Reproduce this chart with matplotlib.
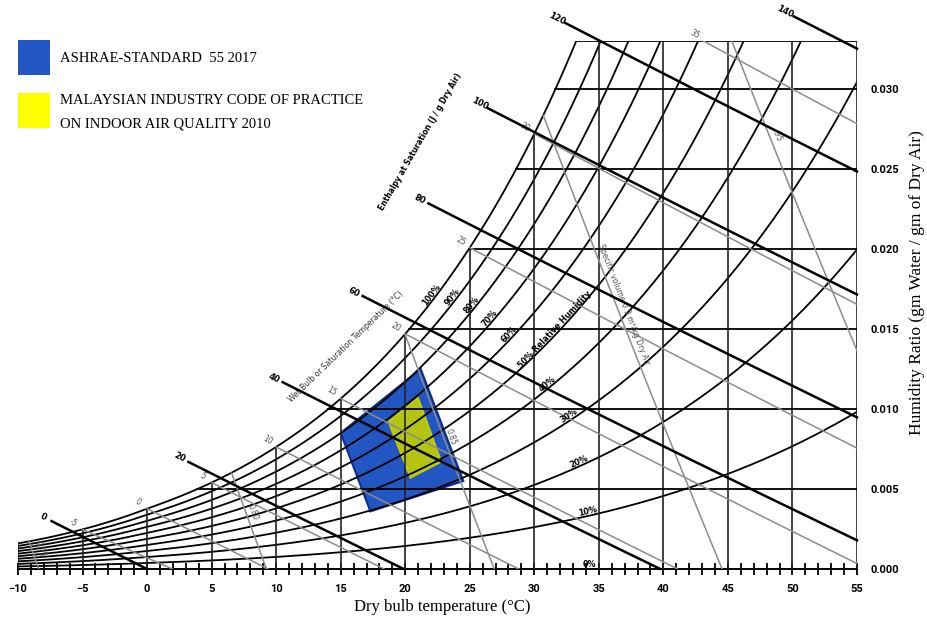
import numpy as np
import matplotlib.pyplot as plt
from matplotlib.patches import Polygon, Rectangle
from matplotlib.ticker import MultipleLocator, FormatStrFormatter

# chart parameters
rh_levels = [10, 20, 30, 40, 50, 60, 70, 80, 90, 100]
rh_label_levels = [0, 10, 20, 30, 40, 50, 60, 70, 80, 90, 100]
rh_label_T = [34.3, 34.2, 33.6, 32.9, 31.2, 31.8, 28.3, 26.8, 25.4, 23.9, 22.3]
rh_label_text = ["0%", "10%", "20%", "30%", "40%", "50% Relative Humidity",
                 "60%", "70%", "80%", "90%", "100%"]

enthalpy_levels = [0, 20, 40, 60, 80, 100, 120, 140]
enthalpy_start_T = [-7.4, 3.2, 10.5, 16.7, 21.8, 26.4, 32.4, 50.1]

wet_bulb_levels = [-5, 0, 5, 10, 15, 20, 25, 30, 35]

volume_levels = [0.75, 0.80, 0.85, 0.90, 0.95]
volume_label_W = [0.0011, 0.0034, 0.0081, 0.0164, 0.0269]
volume_label_text = ["0.75", "0.80", "0.85", "Specific volume 0.9 m\u00b3/kg Dry Air", ".95"]

w_grid = [0.005, 0.010, 0.015, 0.020, 0.025, 0.030, 0.033]
t_grid = list(range(-10, 56, 5))

ashrae_T = [21.2, 15.0, 17.3, 24.5]
ashrae_W = [0.0125, 0.0085, 0.0036, 0.0055]
micop_T = [21.0, 18.7, 20.4, 22.8]
micop_W = [0.0107, 0.0092, 0.0057, 0.0067]

P = 101.325
W_TOP = 0.033


def pws(T):
    Tk = np.asarray(T, float) + 273.15
    water = np.exp(-5.8002206e3 / Tk + 1.3914993 - 4.8640239e-2 * Tk + 4.1764768e-5 * Tk**2
                   - 1.4452093e-8 * Tk**3 + 6.5459673 * np.log(Tk)) / 1000
    ice = np.exp(-5.6745359e3 / Tk + 6.3925247 - 9.677843e-3 * Tk + 6.2215701e-7 * Tk**2
                 + 2.0747825e-9 * Tk**3 - 9.484024e-13 * Tk**4 + 4.1635019 * np.log(Tk)) / 1000
    return np.where(Tk < 273.15, ice, water)


def w_rh(T, rh):
    pw = rh * pws(T)
    return 0.621945 * pw / (P - pw)


def w_wetbulb(T, twb):
    ws = w_rh(twb, 1.0)
    if twb >= 0:
        return ((2501 - 2.326 * twb) * ws - 1.006 * (T - twb)) / (2501 + 1.86 * T - 4.186 * twb)
    return ((2830 - 0.24 * twb) * ws - 1.006 * (T - twb)) / (2830 + 1.86 * T - 2.1 * twb)


def w_enthalpy(T, h):
    return (h - 1.006 * T) / (2501 + 1.86 * T)


def w_volume(T, v):
    return (v * P / (0.287042 * (T + 273.15)) - 1) / 1.607858


fig = plt.figure(figsize=(9.27, 6.2), dpi=100)
ax = fig.add_axes([18 / 927, 51 / 620, 839 / 927, 528 / 620])
ax.set_xlim(-10, 55)
ax.set_ylim(0, W_TOP)

T = np.linspace(-10, 55, 6501)
w_sat = w_rh(T, 1.0)


def disp_angle(x0, y0, x1, y1):
    a = ax.transData.transform([(x0, y0), (x1, y1)])
    return np.degrees(np.arctan2(a[1, 1] - a[0, 1], a[1, 0] - a[0, 0]))


# relative humidity curves
for rh in rh_levels:
    ax.plot(T, w_rh(T, rh / 100), color="black", lw=1.3, zorder=3)

# vertical dry bulb lines
for t in t_grid:
    ax.plot([t, t], [0, min(float(w_rh(t, 1.0)), W_TOP)], color="#222222", lw=1.2, zorder=3)

# horizontal humidity ratio lines
for w in w_grid:
    t0 = np.interp(w, w_sat, T)
    ax.plot([t0, 55], [w, w], color="black", lw=1.3, zorder=3)

# wet bulb lines
for twb in wet_bulb_levels:
    tt = np.linspace(twb, 55, 2000)
    ww = w_wetbulb(tt, twb)
    ok = (ww >= 0) & (ww <= W_TOP)
    ax.plot(tt[ok], ww[ok], color="#8c8c8c", lw=1.1, zorder=3)
    x0, y0 = tt[ok][0], ww[ok][0]
    ax.annotate(str(twb), (x0, y0), xytext=(-6.5, 5), textcoords="offset points",
                ha="center", va="center", fontsize=5.5, color="#555555", rotation=-30)

# specific volume lines
for v, lw_, lab in zip(volume_levels, volume_label_W, volume_label_text):
    ww = w_volume(T, v)
    ok = (ww >= 0) & (ww <= w_sat) & (ww <= W_TOP)
    ax.plot(T[ok], ww[ok], color="#8c8c8c", lw=1.1, zorder=3)
    tl = v * P / (0.287042 * (1 + 1.607858 * lw_)) - 273.15
    ang = disp_angle(tl - 0.3, w_volume(tl - 0.3, v), tl + 0.3, w_volume(tl + 0.3, v))
    nx, ny = np.sin(np.radians(ang)), -np.cos(np.radians(ang))
    ax.annotate(lab, (tl, lw_), xytext=(-nx * 5, -ny * 5), textcoords="offset points",
                ha="center", va="center", fontsize=5.5, color="#555555",
                rotation=ang, rotation_mode="anchor")

# enthalpy lines
for h, t0 in zip(enthalpy_levels, enthalpy_start_T):
    tt = np.linspace(t0, 55, 500)
    ww = w_enthalpy(tt, h)
    ok = ww >= 0
    ax.plot(tt[ok], ww[ok], color="black", lw=1.8, zorder=4, clip_on=False)
    ang = disp_angle(tt[0], ww[0], tt[-1], ww[-1])
    ax.annotate(str(h), (t0, w_enthalpy(t0, h)), xytext=(-6, 3), textcoords="offset points",
                ha="center", va="center", fontsize=6, fontweight="bold", rotation=ang,
                annotation_clip=False)

# relative humidity labels
for rh, tl, lab in zip(rh_label_levels, rh_label_T, rh_label_text):
    wl = float(w_rh(tl, rh / 100))
    ang = disp_angle(tl - 0.3, w_rh(tl - 0.3, rh / 100), tl + 0.3, w_rh(tl + 0.3, rh / 100))
    nx, ny = -np.sin(np.radians(ang)), np.cos(np.radians(ang))
    ax.annotate(lab, (tl, wl), xytext=(nx * 3, ny * 3), textcoords="offset points",
                ha="center", va="center", fontsize=5.8, fontweight="bold",
                rotation=ang, rotation_mode="anchor", zorder=5)

ax.text(15.4, 0.0139, "Wet Bulb or Saturation Temperature (\u00b0C)", fontsize=5.5,
        color="#333333", rotation=44, ha="center", va="center")
ax.text(21.2, 0.0267, "Enthalpy at Saturation (J / g Dry Air)", fontsize=5.5,
        fontweight="bold", rotation=60, ha="center", va="center")

# comfort zones
ax.add_patch(Polygon(np.column_stack([ashrae_T, ashrae_W]), closed=True,
                     facecolor="#2257c3", edgecolor="#0b2f8f", lw=1.5, zorder=1))
ax.add_patch(Polygon(np.column_stack([micop_T, micop_W]), closed=True,
                     facecolor="#b5c412", edgecolor="#c8d000", lw=1.2, zorder=2))

# axes styling
for s in ["left", "top", "right"]:
    ax.spines[s].set_visible(False)
ax.spines["bottom"].set_linewidth(1.4)
ax.xaxis.set_major_locator(MultipleLocator(5))
ax.xaxis.set_minor_locator(MultipleLocator(1))
ax.tick_params(axis="x", which="both", direction="inout", length=8, width=1.3, pad=7)
ax.yaxis.tick_right()
ax.set_yticks([0, 0.005, 0.010, 0.015, 0.020, 0.025, 0.030])
ax.yaxis.set_major_formatter(FormatStrFormatter("%.3f"))
ax.tick_params(axis="y", length=0, pad=10)
for lab in ax.get_xticklabels() + ax.get_yticklabels():
    lab.set_fontfamily("Roboto")
    lab.set_fontweight("bold")
    lab.set_fontsize(8)

fig.text(442 / 927, 1 - 607 / 620, "Dry bulb temperature (\u00b0C)", family="Liberation Serif",
         fontsize=12, ha="center", va="center")
fig.text(917 / 927, 1 - 283 / 620, "Humidity Ratio (gm Water / gm of Dry Air)",
         family="Liberation Serif", fontsize=12.5, rotation=90, ha="center", va="center")

# legend
fig.add_artist(Rectangle((18 / 927, 1 - 75 / 620), 32 / 927, 35 / 620,
                         transform=fig.transFigure, facecolor="#2257c3", edgecolor="none"))
fig.add_artist(Rectangle((18 / 927, 1 - 128 / 620), 32 / 927, 35 / 620,
                         transform=fig.transFigure, facecolor="#ffff00", edgecolor="none"))
fig.text(60 / 927, 1 - 58 / 620, "ASHRAE-STANDARD  55 2017", family="Liberation Serif",
         fontsize=10.5, va="center")
fig.text(60 / 927, 1 - 101 / 620, "MALAYSIAN INDUSTRY CODE OF PRACTICE",
         family="Liberation Serif", fontsize=10.5, va="center")
fig.text(60 / 927, 1 - 124 / 620, "ON INDOOR AIR QUALITY 2010",
         family="Liberation Serif", fontsize=10.5, va="center")

fig.savefig("out.png", dpi=100)
